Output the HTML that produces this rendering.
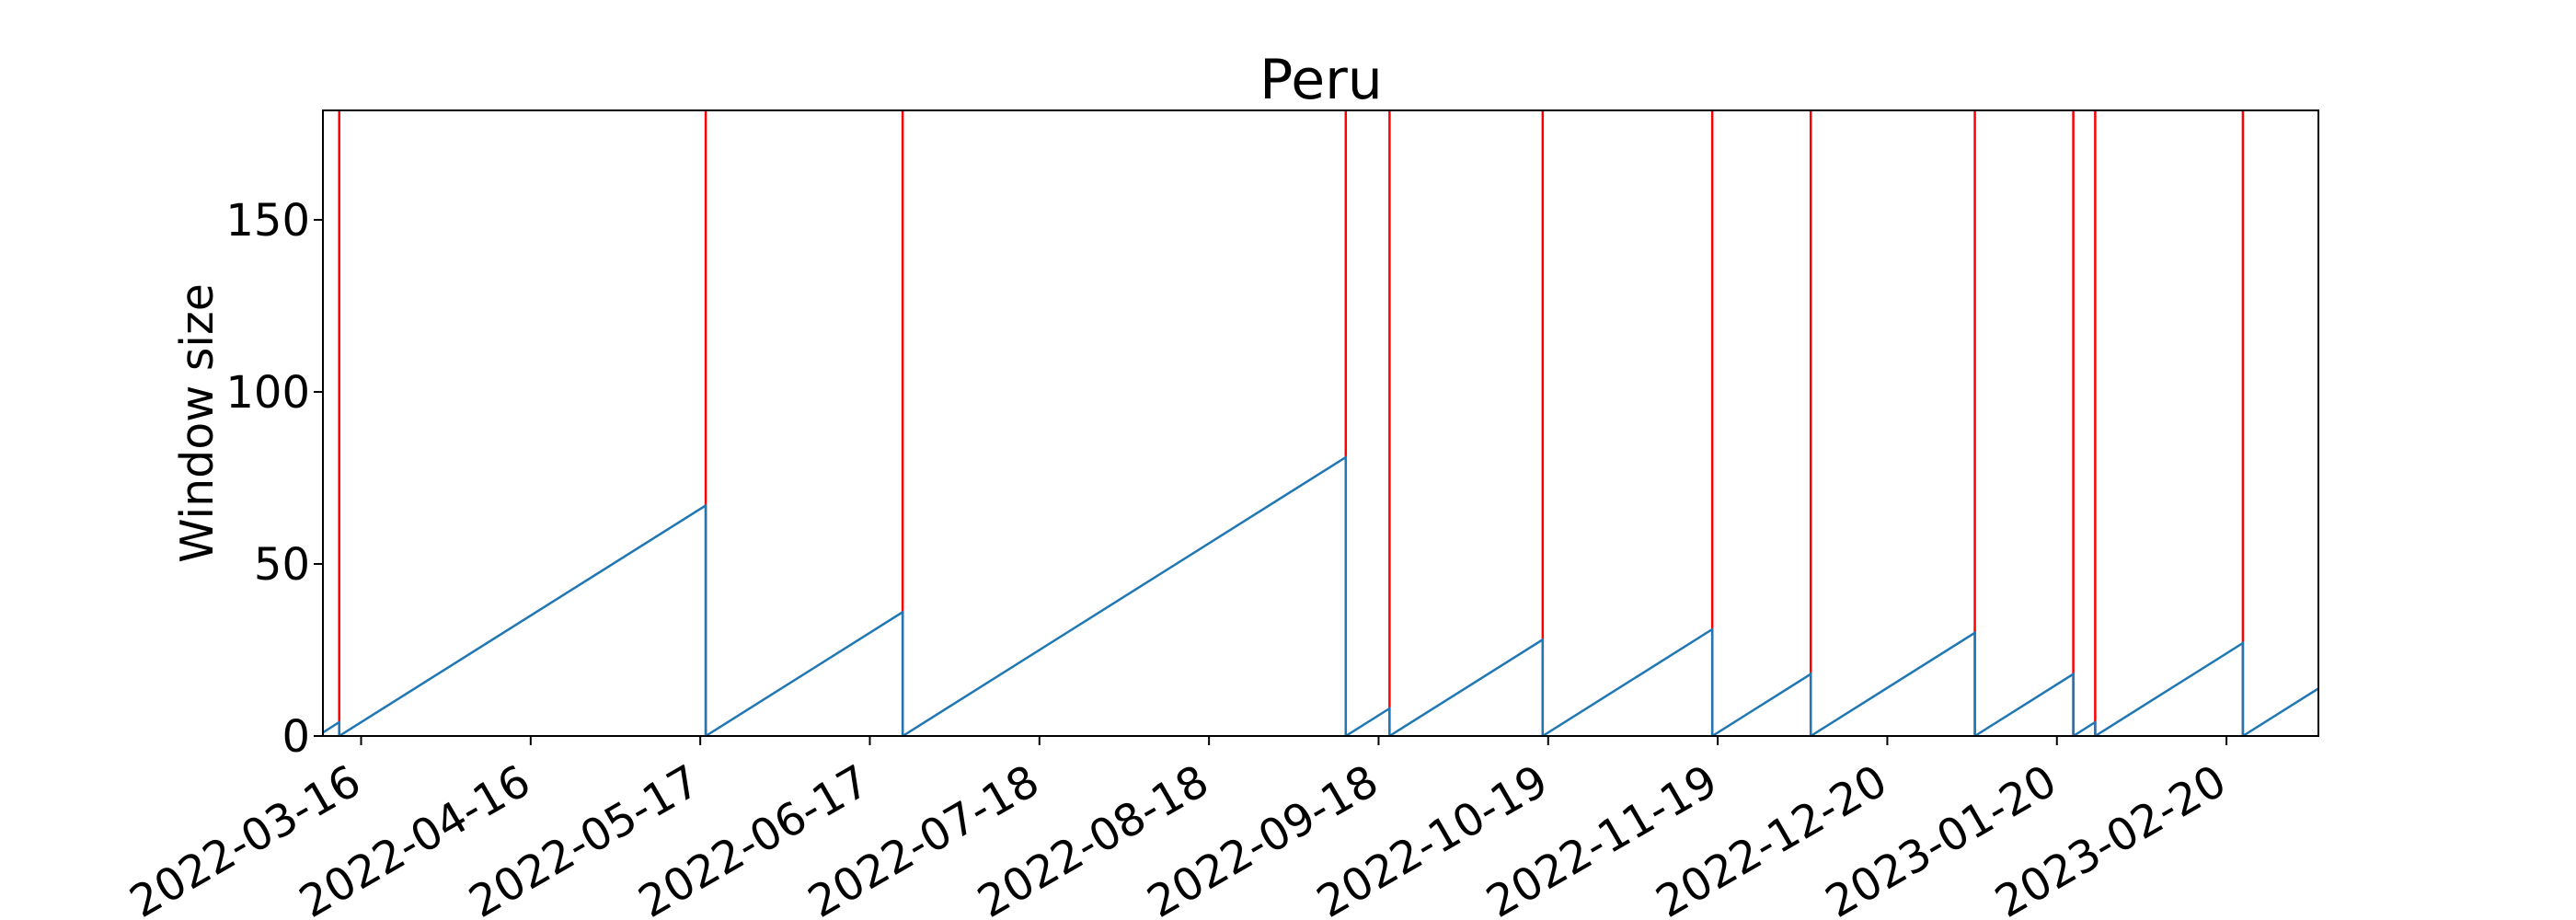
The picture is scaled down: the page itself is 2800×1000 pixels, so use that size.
<!DOCTYPE html>
<html><head><meta charset="utf-8"><style>
html,body{margin:0;padding:0;background:#fff;}
svg{display:block;font-family:"DejaVu Sans","Liberation Sans",sans-serif;}
</style></head><body>
<svg id="chart" width="2800" height="1000" viewBox="0 0 2800 1000" xmlns="http://www.w3.org/2000/svg">
<rect width="2800" height="1000" fill="#fff"/>
<text x="1436" y="107" font-size="60" text-anchor="middle">Peru</text>
<text transform="translate(231,460) rotate(-90)" font-size="49" text-anchor="middle">Window size</text>
<g id="plot"></g>
</svg>
<script>
// chart data
const changeDates = ["2022-03-12","2022-05-18","2022-06-23","2022-09-12","2022-09-20","2022-10-18","2022-11-18","2022-12-06","2023-01-05","2023-01-23","2023-01-27","2023-02-23"];
const peakValues = [4, 67, 36, 81, 8, 28, 31, 18, 30, 18, 4, 27];
const seriesStartDate = "2022-03-09";
const seriesStartValue = 1;
const seriesEndDate = "2023-03-09";
const seriesEndValue = 14;
const xTickLabels = ["2022-03-16","2022-04-16","2022-05-17","2022-06-17","2022-07-18","2022-08-18","2022-09-18","2022-10-19","2022-11-19","2022-12-20","2023-01-20","2023-02-20"];
const yTickValues = [0, 50, 100, 150];

const L=351, R=2520, T=120, B=800;
const DAY=86400000;
const d0 = Date.parse("2022-03-16T00:00:00Z");
const pxPerDay = 5.946;
const X0 = 392.5;
const yMax = 181.8;
function dayOf(s){ return (Date.parse(s+"T00:00:00Z")-d0)/DAY; }
function xs(s){ return X0 + dayOf(s)*pxPerDay; }
function ys(v){ return B - v*(B-T)/yMax; }

const NS="http://www.w3.org/2000/svg";
const g=document.getElementById('plot');
function mk(tag, attrs, parent){ const e=document.createElementNS(NS,tag); for(const k in attrs) e.setAttribute(k,attrs[k]); (parent||g).appendChild(e); return e; }

const defs=mk('defs',{});
const cp=mk('clipPath',{id:'clip'},defs);
mk('rect',{x:L,y:T,width:R-L,height:B-T},cp);
const inner=mk('g',{'clip-path':'url(#clip)'});

changeDates.forEach((d,i)=>{
  const ln=mk('line',{x1:xs(d),x2:xs(d),y1:T,y2:B,stroke:'#ff0000','stroke-width':2.5},inner);
  
  
});

let pts=[[xs(seriesStartDate),ys(seriesStartValue)]];
changeDates.forEach((d,i)=>{
  pts.push([xs(d),ys(peakValues[i])]);
  pts.push([xs(d),ys(0)]);
});
pts.push([xs(seriesEndDate),ys(seriesEndValue)]);
const pl=mk('polyline',{points:pts.map(p=>p[0].toFixed(1)+','+p[1].toFixed(1)).join(' '),fill:'none',stroke:'#1f77b4','stroke-width':2.5},inner);



const fr=mk('rect',{x:L,y:T,width:R-L,height:B-T,fill:'none',stroke:'#000','stroke-width':2});



yTickValues.forEach(v=>{
  const y=ys(v);
  mk('line',{x1:L-10,x2:L,y1:y,y2:y,stroke:'#000','stroke-width':2});
  const t=mk('text',{x:337,y:y+17,'font-size':48,'text-anchor':'end'});
  t.textContent=v;
  
  
});

xTickLabels.forEach(s=>{
  const x=xs(s);
  mk('line',{x1:x,x2:x,y1:B,y2:B+10,stroke:'#000','stroke-width':2});
  const t=mk('text',{transform:'translate('+(x+3)+',859) rotate(-30)','font-size':48,'text-anchor':'end'});
  t.textContent=s;
  
  
});
</script>
</body></html>
